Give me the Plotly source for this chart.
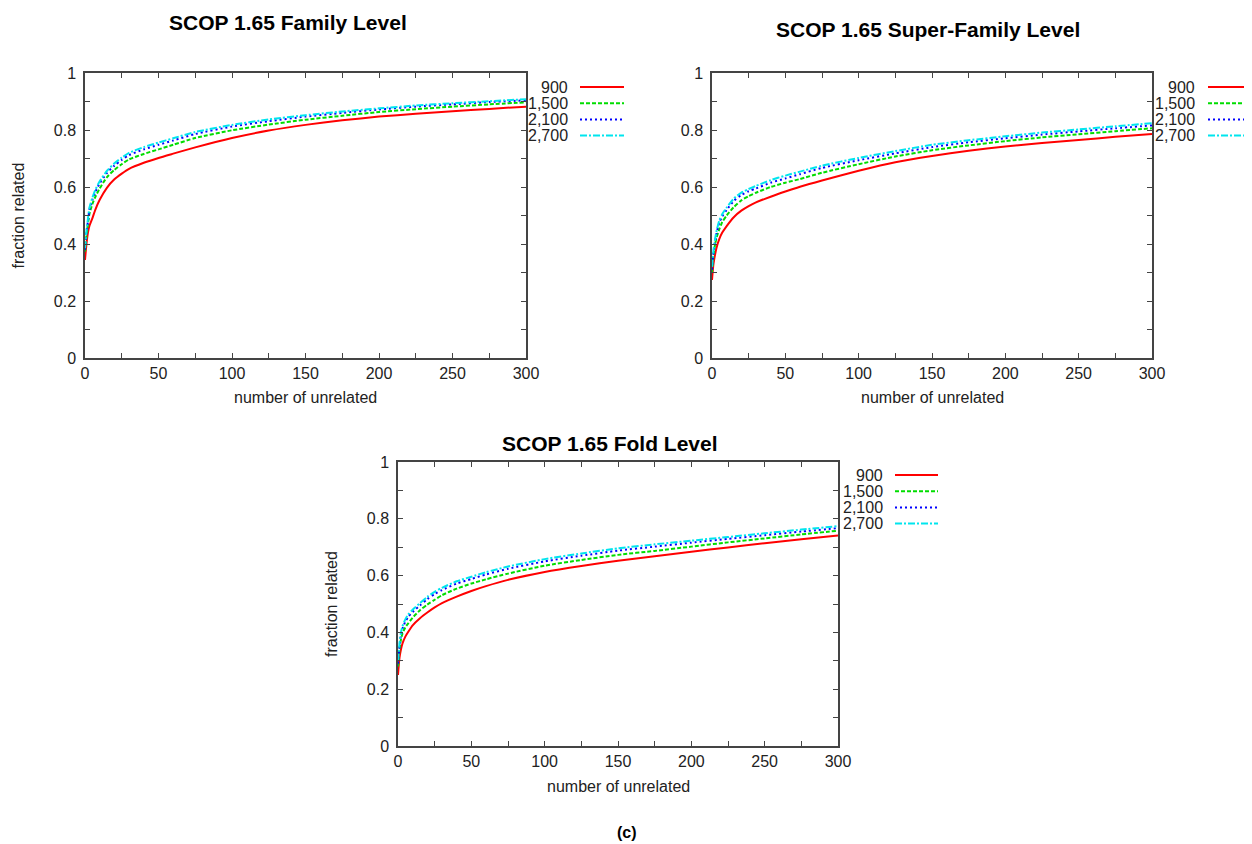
import plotly.graph_objects as go

# page offset (browser body margin) and figure size
OFF = 8
W, H = 1252 - OFF, 844 - OFF

x_unrelated = [0, 1, 2, 3, 5, 7, 10, 15, 20, 25, 30, 40, 50, 60, 75, 100, 125, 150, 175, 200, 225, 250, 275, 300]

series_names = ["900", "1,500", "2,100", "2,700"]

family_900 = [0.344, 0.40, 0.44, 0.463, 0.49, 0.52, 0.555, 0.598, 0.627, 0.647, 0.664, 0.685, 0.702, 0.717, 0.739, 0.772, 0.798, 0.818, 0.834, 0.847, 0.857, 0.866, 0.874, 0.882]
family_1500 = [0.373, 0.43, 0.47, 0.505, 0.54, 0.565, 0.595, 0.635, 0.66, 0.68, 0.697, 0.716, 0.732, 0.748, 0.772, 0.799, 0.819, 0.836, 0.85, 0.863, 0.873, 0.882, 0.89, 0.897]
family_2100 = [0.38, 0.44, 0.48, 0.52, 0.555, 0.582, 0.613, 0.65, 0.675, 0.695, 0.712, 0.732, 0.748, 0.763, 0.786, 0.812, 0.831, 0.847, 0.86, 0.872, 0.882, 0.89, 0.898, 0.904]
family_2700 = [0.385, 0.447, 0.488, 0.527, 0.562, 0.59, 0.62, 0.657, 0.683, 0.703, 0.72, 0.74, 0.756, 0.771, 0.793, 0.818, 0.837, 0.852, 0.865, 0.876, 0.886, 0.894, 0.901, 0.908]

superfamily_900 = [0.274, 0.33, 0.36, 0.385, 0.418, 0.44, 0.463, 0.495, 0.517, 0.533, 0.546, 0.566, 0.584, 0.601, 0.623, 0.657, 0.687, 0.709, 0.727, 0.742, 0.754, 0.765, 0.776, 0.786]
superfamily_1500 = [0.30, 0.36, 0.395, 0.42, 0.452, 0.477, 0.50, 0.53, 0.553, 0.568, 0.58, 0.60, 0.615, 0.628, 0.65, 0.68, 0.707, 0.729, 0.746, 0.761, 0.774, 0.785, 0.796, 0.806]
superfamily_2100 = [0.31, 0.37, 0.405, 0.435, 0.475, 0.497, 0.52, 0.552, 0.572, 0.585, 0.595, 0.615, 0.63, 0.645, 0.667, 0.694, 0.718, 0.74, 0.757, 0.771, 0.784, 0.795, 0.806, 0.816]
superfamily_2700 = [0.32, 0.378, 0.413, 0.443, 0.483, 0.505, 0.528, 0.56, 0.58, 0.593, 0.604, 0.624, 0.64, 0.654, 0.675, 0.702, 0.726, 0.748, 0.764, 0.778, 0.791, 0.802, 0.813, 0.824]

fold_900 = [0.25, 0.31, 0.34, 0.36, 0.385, 0.402, 0.425, 0.45, 0.47, 0.488, 0.503, 0.526, 0.546, 0.563, 0.585, 0.613, 0.634, 0.652, 0.668, 0.684, 0.699, 0.714, 0.728, 0.741]
fold_1500 = [0.28, 0.34, 0.375, 0.395, 0.418, 0.432, 0.452, 0.478, 0.498, 0.515, 0.531, 0.554, 0.572, 0.587, 0.607, 0.635, 0.655, 0.673, 0.687, 0.702, 0.717, 0.731, 0.745, 0.758]
fold_2100 = [0.29, 0.35, 0.39, 0.412, 0.438, 0.455, 0.472, 0.495, 0.517, 0.535, 0.549, 0.572, 0.588, 0.604, 0.624, 0.65, 0.67, 0.688, 0.702, 0.716, 0.729, 0.742, 0.755, 0.767]
fold_2700 = [0.30, 0.36, 0.40, 0.421, 0.446, 0.463, 0.48, 0.503, 0.525, 0.543, 0.557, 0.58, 0.596, 0.612, 0.632, 0.658, 0.678, 0.696, 0.71, 0.723, 0.736, 0.749, 0.762, 0.774]

x_tick_vals = [0, 50, 100, 150, 200, 250, 300]
y_tick_vals = [0, 0.2, 0.4, 0.6, 0.8, 1]
y_tick_text = ["0", "0.2", "0.4", "0.6", "0.8", "1"]

panel_titles = ["SCOP 1.65 Family Level", "SCOP 1.65 Super-Family Level", "SCOP 1.65 Fold Level"]
x_label = "number of unrelated"
y_label = "fraction related"
caption = "(c)"

colors = ["#ff0000", "#00dd00", "#0000ff", "#00e5ee"]
dashes = ["solid", "4px,2px", "2px,3px", "7px,2px,2px,2px"]

panels = [
    [family_900, family_1500, family_2100, family_2700],
    [superfamily_900, superfamily_1500, superfamily_2100, superfamily_2700],
    [fold_900, fold_1500, fold_2100, fold_2700],
]

# panel geometry in page pixels: (left, right, top, bottom)
boxes = [(85, 526, 73, 358), (712, 1152, 73, 358), (398, 838, 462, 746)]

def px(xp):
    return (xp - OFF) / W

def py(yp):
    return 1 - (yp - OFF) / H

fig = go.Figure()
FONT = "Liberation Sans, Arial, Helvetica, sans-serif"

for pi, series in enumerate(panels):
    suffix = "" if pi == 0 else str(pi + 1)
    for si, ys in enumerate(series):
        fig.add_trace(go.Scatter(
            x=x_unrelated, y=ys, mode="lines", name=series_names[si],
            line=dict(color=colors[si], width=2, dash=dashes[si], shape="spline", smoothing=0.6),
            xaxis="x" + suffix, yaxis="y" + suffix, showlegend=False,
        ))
    l, r, t, b = boxes[pi]
    common = dict(showgrid=False, zeroline=False, showline=True, linecolor="#444444", linewidth=1.5,
                  mirror="allticks", ticks="inside", ticklen=5, tickcolor="#444444", tickwidth=1,
                  automargin=False,
                  tickfont=dict(family=FONT, size=16, color="#222222"))
    fig.layout["xaxis" + suffix] = dict(
        domain=[px(l), px(r)], range=[0, 300], anchor="y" + suffix,
        tickvals=x_tick_vals,
        minor=dict(dtick=25, tick0=0, ticks="inside", ticklen=5, tickcolor="#444444", showgrid=False),
        **common)
    fig.layout["yaxis" + suffix] = dict(
        domain=[py(b), py(t)], range=[0, 1], anchor="x" + suffix,
        tickvals=y_tick_vals, ticktext=y_tick_text,
        minor=dict(dtick=0.1, tick0=0, ticks="inside", ticklen=5, tickcolor="#444444", showgrid=False),
        ticklabelstandoff=4,
        **common)

annotations = []
shapes = []
title_pos = [(288, 23), (928, 29), (610, 444)]
for pi in range(3):
    tx, ty = title_pos[pi]
    annotations.append(dict(text="<b>" + panel_titles[pi] + "</b>", x=px(tx), y=py(ty), xref="paper", yref="paper",
                            xanchor="center", yanchor="middle", showarrow=False,
                            font=dict(family=FONT, size=21, color="#000000")))
    l, r, t, b = boxes[pi]
    annotations.append(dict(text=x_label, x=px((l + r) / 2), y=py(b + 40), xref="paper", yref="paper",
                            xanchor="center", yanchor="middle", showarrow=False,
                            font=dict(family=FONT, size=16, color="#222222")))
    if pi != 1:
        annotations.append(dict(text=y_label, x=px(l - 67), y=py((t + b) / 2), xref="paper", yref="paper",
                                xanchor="center", yanchor="middle", showarrow=False, textangle=-90,
                                font=dict(family=FONT, size=16, color="#222222")))

# legends (gnuplot style: label then sample)
legend_geo = [(570, 580, 624, 87), (1197, 1208, 1250, 87), (885, 895, 938, 475)]
for pi in range(3):
    tr, l0, l1, y0 = legend_geo[pi]
    for si in range(4):
        yy = y0 + si * 16.2
        annotations.append(dict(text=series_names[si], x=px(tr), y=py(yy), xref="paper", yref="paper",
                                xanchor="right", yanchor="middle", showarrow=False,
                                font=dict(family=FONT, size=16, color="#222222")))
        shapes.append(dict(type="line", xref="paper", yref="paper", x0=px(l0), x1=px(l1), y0=py(yy), y1=py(yy),
                           line=dict(color=colors[si], width=2, dash=dashes[si])))

annotations.append(dict(text="<b>" + caption + "</b>", x=px(627), y=py(832), xref="paper", yref="paper",
                        xanchor="center", yanchor="middle", showarrow=False,
                        font=dict(family=FONT, size=16, color="#000000")))

fig.update_layout(width=W, height=H, margin=dict(l=0, r=0, t=0, b=0, pad=0, autoexpand=False),
                  paper_bgcolor="white", plot_bgcolor="white",
                  annotations=annotations, shapes=shapes, showlegend=False)

fig.write_html("out.html")
